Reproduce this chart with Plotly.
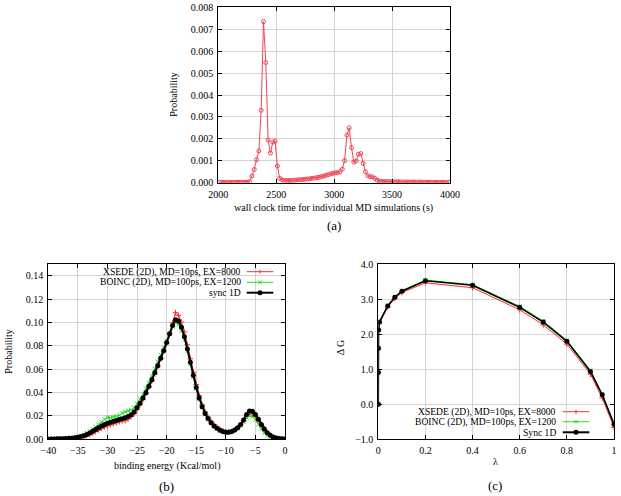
import plotly.graph_objects as go

W, H = 621, 496
FONT = "Liberation Serif"

# ---------------- (a) wall clock time distribution ----------------
wall_time_s = list(range(2010, 4000, 20))
wall_prob = (
    [0.00002] * 13 +
    [0.00005, 0.0003, 0.0006, 0.00105, 0.00145, 0.0033, 0.00735, 0.00548,
     0.00195, 0.00135, 0.00185, 0.0019, 0.00076, 0.0002] +
    [0.00013] +
    [0.00011, 0.0001, 0.0001, 0.0001, 0.00011, 0.00012, 0.00013, 0.00014,
     0.00015, 0.00016, 0.00017, 0.00018, 0.0002, 0.00021, 0.00023, 0.00025,
     0.00028, 0.0003, 0.00034, 0.00037, 0.0004, 0.00043, 0.00045, 0.00046,
     0.0005, 0.00062] +
    [0.00101, 0.00217, 0.0025, 0.0016, 0.00094, 0.00098, 0.0013, 0.00133,
     0.00088, 0.0005, 0.00032, 0.00027, 0.00027, 0.0002, 0.00012, 0.00008] +
    [0.00006, 0.00005, 0.00005, 0.00005, 0.00004, 0.00004, 0.00004, 0.00004,
     0.00004, 0.00003, 0.00003, 0.00003, 0.00003, 0.00003, 0.00003, 0.00003,
     0.00003, 0.00003, 0.00002, 0.00002, 0.00002, 0.00002, 0.00002, 0.00002,
     0.00002, 0.00002, 0.00002, 0.00002, 0.00002, 0.00002]
)

# ---------------- (b) binding energy distributions ----------------
energy = [-40 + 0.5 * i for i in range(81)]
xsede_b = [0.0001, 0.0001, 0.0001, 0.0002, 0.0002, 0.0003, 0.0004, 0.0005, 0.0006,
           0.0008, 0.0011, 0.0016, 0.0022, 0.003, 0.004, 0.0053, 0.0066, 0.008,
           0.0094, 0.0106, 0.0116, 0.0124, 0.0133, 0.0142, 0.015, 0.0158, 0.016,
           0.0175, 0.0195, 0.022, 0.0255, 0.0295, 0.034, 0.039, 0.0445, 0.050,
           0.056, 0.0625, 0.069, 0.0755, 0.0825, 0.0905, 0.100, 0.1085, 0.106,
           0.1005, 0.092, 0.081, 0.069, 0.0575, 0.047, 0.0375, 0.0295, 0.0235,
           0.019, 0.0155, 0.0128, 0.0105, 0.0087, 0.0074, 0.0066, 0.0064, 0.0068,
           0.008, 0.0098, 0.0124, 0.016, 0.0198, 0.022, 0.0218, 0.0195, 0.016,
           0.012, 0.0085, 0.0056, 0.0035, 0.002, 0.0012, 0.0007, 0.0004, 0.0002]
boinc_b = [0.0003, 0.0003, 0.0003, 0.0004, 0.0004, 0.0005, 0.0006, 0.0009, 0.0012,
           0.0016, 0.0022, 0.003, 0.004, 0.0055, 0.007, 0.0088, 0.0108, 0.0128,
           0.0148, 0.0172, 0.0188, 0.0185, 0.0192, 0.0197, 0.0205, 0.0225, 0.0235,
           0.0243, 0.0252, 0.0272, 0.0305, 0.0345, 0.0385, 0.0435, 0.0485, 0.0545,
           0.0605, 0.0665, 0.0725, 0.0785, 0.0845, 0.0905, 0.0965, 0.100, 0.0985,
           0.093, 0.0855, 0.0755, 0.0645, 0.0535, 0.0435, 0.0345, 0.0272, 0.0215,
           0.0172, 0.0138, 0.0112, 0.0092, 0.0076, 0.0065, 0.006, 0.006, 0.0066,
           0.0078, 0.0096, 0.012, 0.015, 0.0185, 0.0202, 0.0195, 0.0168, 0.0128,
           0.0088, 0.0055, 0.0032, 0.0015, 0.0006, 0.0002, 0.0001, 0.0, 0.0]
sync_b = [0.0003, 0.0003, 0.0003, 0.0004, 0.0004, 0.0005, 0.0006, 0.0008, 0.001,
          0.0013, 0.0017, 0.0023, 0.003, 0.0041, 0.0054, 0.0068, 0.0083, 0.0099,
          0.0113, 0.0126, 0.0137, 0.0146, 0.0155, 0.0162, 0.0169, 0.0176, 0.0184,
          0.0195, 0.021, 0.0235, 0.027, 0.031, 0.0355, 0.040, 0.0455, 0.051,
          0.057, 0.063, 0.0695, 0.076, 0.083, 0.0905, 0.0975, 0.1025, 0.1015,
          0.096, 0.088, 0.0775, 0.066, 0.055, 0.0445, 0.0355, 0.028, 0.0222,
          0.0178, 0.0142, 0.0115, 0.0094, 0.0078, 0.0066, 0.006, 0.006, 0.0066,
          0.0079, 0.0099, 0.0127, 0.0165, 0.0212, 0.0242, 0.024, 0.0213, 0.0172,
          0.0127, 0.0088, 0.0057, 0.0035, 0.002, 0.0012, 0.0007, 0.0004, 0.0002]

# ---------------- (c) free energy vs lambda ----------------
lam = [0, 0.0002, 0.0005, 0.001, 0.005, 0.04, 0.07, 0.1, 0.2, 0.4, 0.6, 0.7, 0.8, 0.9, 0.95, 1.0]
xsede_c = [0, 0.91, 1.6, 2.12, 2.33, 2.78, 3.02, 3.19, 3.47, 3.33, 2.70, 2.27, 1.72, 0.86, 0.18, -0.66]
boinc_c = [0, 0.92, 1.61, 2.13, 2.36, 2.82, 3.07, 3.25, 3.55, 3.42, 2.80, 2.38, 1.83, 0.97, 0.29, -0.55]
sync_c = [0, 0.91, 1.6, 2.12, 2.35, 2.81, 3.06, 3.23, 3.53, 3.40, 2.77, 2.35, 1.80, 0.94, 0.27, -0.57]

legend_b = ["XSEDE (2D), MD=10ps, EX=8000", "BOINC (2D), MD=100ps, EX=1200", "sync 1D"]
legend_c = ["XSEDE (2D), MD=10ps, EX=8000", "BOINC (2D), MD=100ps, EX=1200", "Sync 1D"]

RED = "#ff2a2a"
GREEN = "#22e022"
BLACK = "#000000"
PINK = "#f04452"
FS = 10


def px(x):
    return x / W


def py(y):
    return 1 - y / H


fig = go.Figure()

fig.add_trace(go.Scatter(x=wall_time_s, y=wall_prob, mode="lines+markers",
                         line=dict(color=PINK, width=1),
                         marker=dict(symbol="circle-open", size=4, color=PINK, line=dict(width=1)),
                         xaxis="x", yaxis="y", showlegend=False))

fig.add_trace(go.Scatter(x=energy, y=xsede_b, mode="lines+markers", name=legend_b[0],
                         line=dict(color=RED, width=1),
                         marker=dict(symbol="cross-thin", size=4, color=RED, line=dict(width=1, color=RED)),
                         xaxis="x2", yaxis="y2", showlegend=False))
fig.add_trace(go.Scatter(x=energy, y=boinc_b, mode="lines+markers", name=legend_b[1],
                         line=dict(color=GREEN, width=1),
                         marker=dict(symbol="x-thin", size=4, color=GREEN, line=dict(width=1, color=GREEN)),
                         xaxis="x2", yaxis="y2", showlegend=False))
fig.add_trace(go.Scatter(x=energy, y=sync_b, mode="lines+markers", name=legend_b[2],
                         line=dict(color=BLACK, width=2),
                         marker=dict(symbol="circle", size=5, color=BLACK),
                         xaxis="x2", yaxis="y2", showlegend=False))

fig.add_trace(go.Scatter(x=lam, y=xsede_c, mode="lines+markers", name=legend_c[0],
                         line=dict(color=RED, width=1),
                         marker=dict(symbol="cross-thin", size=4, color=RED, line=dict(width=1, color=RED)),
                         xaxis="x3", yaxis="y3", showlegend=False))
fig.add_trace(go.Scatter(x=lam, y=boinc_c, mode="lines+markers", name=legend_c[1],
                         line=dict(color=GREEN, width=1),
                         marker=dict(symbol="x-thin", size=4, color=GREEN, line=dict(width=1, color=GREEN)),
                         xaxis="x3", yaxis="y3", showlegend=False))
fig.add_trace(go.Scatter(x=lam, y=sync_c, mode="lines+markers", name=legend_c[2],
                         line=dict(color=BLACK, width=1.6),
                         marker=dict(symbol="circle", size=5, color=BLACK),
                         xaxis="x3", yaxis="y3", showlegend=False))

tickfont = dict(family=FONT, size=FS, color="black")
base = dict(showline=True, linecolor="black", linewidth=1, mirror="allticks",
            ticks="inside", ticklen=4, tickcolor="black", tickwidth=1,
            showgrid=True, gridcolor="#d4d4d4", gridwidth=1, zeroline=False,
            tickfont=tickfont, ticklabelstandoff=2, automargin=False)

fig.update_layout(
    width=W, height=H, margin=dict(l=0, r=0, t=0, b=0),
    paper_bgcolor="white", plot_bgcolor="white",
    font=dict(family=FONT, size=FS, color="black"),
    xaxis=dict(base, domain=[px(218.3), px(450)], range=[2000, 4000], dtick=500, anchor="y"),
    yaxis=dict(base, domain=[py(182.7), py(7.3)], range=[0, 0.008], dtick=0.001,
               tickformat=".3f", anchor="x"),
    xaxis2=dict(base, domain=[px(48.3), px(285)], range=[-40, 0], dtick=5, anchor="y2"),
    yaxis2=dict(base, domain=[py(439.3), py(264.3)], range=[0, 0.15], dtick=0.02,
                tickformat=".2f", anchor="x2"),
    xaxis3=dict(base, domain=[px(378.3), px(614)], range=[0, 1],
                tickvals=[0, 0.2, 0.4, 0.6, 0.8, 1], ticktext=["0", "0.2", "0.4", "0.6", "0.8", "1"],
                anchor="y3"),
    yaxis3=dict(base, domain=[py(439.3), py(264.3)], range=[-1, 4], dtick=1,
                tickformat=".1f", anchor="x3"),
)

annotations = []
shapes = []


def text(x, y, s, size=FS, angle=0, xanchor="center"):
    annotations.append(dict(x=px(x), y=py(y), xref="paper", yref="paper", text=s,
                            showarrow=False, xanchor=xanchor, yanchor="middle",
                            textangle=angle, borderpad=0,
                            font=dict(family=FONT, size=size, color="black")))


# axis titles and captions
text(172.7, 95, "Probability", angle=-90)
text(334, 208, "wall clock time for individual MD simulations (s)")
text(334, 225, "(a)", size=13)
text(9, 351.7, "Probability", angle=-90)
text(166.7, 466, "binding energy (Kcal/mol)")
text(166.7, 486, "(b)", size=13)
text(340, 347.3, "Δ G", angle=-90)
text(495, 461, "λ")
text(495, 485, "(c)", size=13)


def legend(labels, x_text, x0, x1, ys):
    styles = [(RED, 1, "plus"), (GREEN, 1, "x"), (BLACK, 2, "dot")]
    for lab, y, (col, lw, mk) in zip(labels, ys, styles):
        text(x_text, y, lab, size=9.6, xanchor="right")
        shapes.append(dict(type="line", xref="paper", yref="paper",
                           x0=px(x0), x1=px(x1), y0=py(y), y1=py(y),
                           line=dict(color=col, width=lw)))
        xm = (x0 + x1) / 2
        if mk == "plus":
            shapes.append(dict(type="line", xref="paper", yref="paper", x0=px(xm), x1=px(xm),
                               y0=py(y - 2), y1=py(y + 2), line=dict(color=col, width=1)))
        elif mk == "x":
            shapes.append(dict(type="line", xref="paper", yref="paper", x0=px(xm - 1.8), x1=px(xm + 1.8),
                               y0=py(y - 1.8), y1=py(y + 1.8), line=dict(color=col, width=1)))
            shapes.append(dict(type="line", xref="paper", yref="paper", x0=px(xm - 1.8), x1=px(xm + 1.8),
                               y0=py(y + 1.8), y1=py(y - 1.8), line=dict(color=col, width=1)))
        else:
            shapes.append(dict(type="circle", xref="paper", yref="paper", x0=px(xm - 2.5), x1=px(xm + 2.5),
                               y0=py(y + 2.5), y1=py(y - 2.5), fillcolor=col, line=dict(color=col, width=0)))


legend(legend_b, 241.7, 246.7, 273.3, [271.7, 282.3, 292.7])
legend(legend_c, 556.7, 562.7, 589.3, [411.7, 421.7, 432.3])

fig.update_layout(annotations=annotations, shapes=shapes)

fig.write_html("out.html", config={"displayModeBar": False},
               post_script="document.body.style.margin='0px';")
